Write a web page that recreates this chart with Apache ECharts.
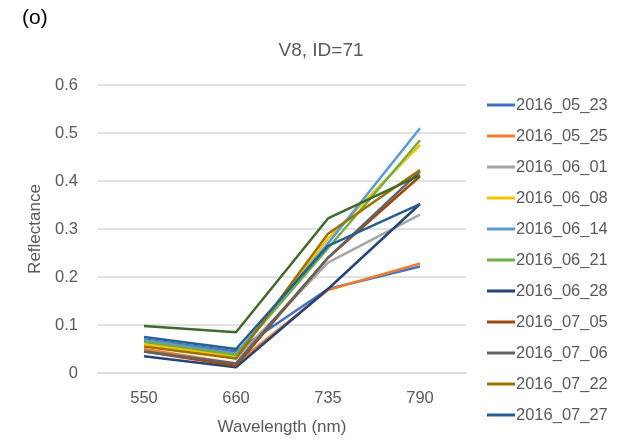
<!DOCTYPE html>
<html><head><meta charset="utf-8">
<script src="https://cdn.jsdelivr.net/npm/echarts@6/dist/echarts.min.js"></script>
<style>html,body{margin:0;padding:0;background:#fff}#c{width:629px;height:441px}</style>
</head><body><div id="c"></div>
<script>
const categories = ['550', '660', '735', '790'];
const seriesNames = ['2016_05_23','2016_05_25','2016_06_01','2016_06_08','2016_06_14','2016_06_21','2016_06_28','2016_07_05','2016_07_06','2016_07_22','2016_07_27','2016_08_xx'];
const s0523 = [0.070, 0.045, 0.175, 0.222];
const s0525 = [0.050, 0.020, 0.173, 0.228];
const s0601 = [0.065, 0.030, 0.230, 0.330];
const s0608 = [0.060, 0.035, 0.280, 0.475];
const s0614 = [0.068, 0.040, 0.270, 0.510];
const s0621 = [0.065, 0.038, 0.260, 0.485];
const s0628 = [0.035, 0.012, 0.175, 0.352];
const s0705 = [0.045, 0.015, 0.240, 0.410];
const s0706 = [0.045, 0.020, 0.240, 0.420];
const s0722 = [0.055, 0.030, 0.290, 0.423];
const s0727 = [0.075, 0.050, 0.265, 0.352];
const sExtra = [0.098, 0.085, 0.322, 0.412];
const values = [s0523,s0525,s0601,s0608,s0614,s0621,s0628,s0705,s0706,s0722,s0727,sExtra];
const colors = ['#4472C4','#ED7D31','#A5A5A5','#FFC000','#5B9BD5','#70AD47','#264478','#9E480E','#636363','#997300','#255E91','#43682B'];
const yTicks = [0, 0.1, 0.2, 0.3, 0.4, 0.5, 0.6];

const chart = echarts.init(document.getElementById('c'), null, {renderer:'canvas'});
const font = 'Liberation Sans, Arial, sans-serif';
chart.setOption({
  animation: false,
  backgroundColor: '#fff',
  graphic: [{type:'text', left: 22, top: 8, style:{text:'(o)', font:'21px '+font, fill:'#000'}}],
  title: {text:'V8, ID=71', left: 316, top: 36, textAlign:'center',
    textStyle:{fontFamily:font, fontSize:19, fontWeight:'normal', color:'#595959'}},
  grid: {left: 98, right: 163, top: 85, bottom: 68},
  legend: {
    orient:'vertical', left: 482, top: 91, itemWidth: 28, itemHeight: 3, itemGap: 13,
    icon: 'rect',
    data: seriesNames.slice(0, 11),
    textStyle:{fontFamily:font, fontSize:16.5, color:'#595959', padding:[0,0,0,-4], lineHeight:18}
  },
  xAxis: {
    type:'category', data: categories, boundaryGap: true,
    name:'Wavelength (nm)', nameLocation:'middle', nameGap: 46,
    nameTextStyle:{fontFamily:font, fontSize:17, color:'#595959'},
    axisLine:{show:true, lineStyle:{color:'#D9D9D9', width:1.5}},
    axisTick:{show:false},
    axisLabel:{fontFamily:font, fontSize:16.5, color:'#595959', margin: 17}
  },
  yAxis: {
    type:'value', min: yTicks[0], max: yTicks[yTicks.length-1], interval: 0.1,
    name:'Reflectance', nameLocation:'middle', nameGap: 50, nameRotate: 90,
    nameTextStyle:{fontFamily:font, fontSize:17, color:'#595959'},
    axisLine:{show:false}, axisTick:{show:false},
    axisLabel:{fontFamily:font, fontSize:16.5, color:'#595959', margin: 20,
      formatter: v => v === 0 ? '0' : v.toFixed(1)},
    splitLine:{lineStyle:{color:'#D9D9D9', width:1.5}}
  },
  series: values.map((d,i) => ({
    name: seriesNames[i], type:'line', data: d, symbol:'none',
    lineStyle:{width:2.5, color: colors[i]}, itemStyle:{color: colors[i]}
  }))
});
</script></body></html>
